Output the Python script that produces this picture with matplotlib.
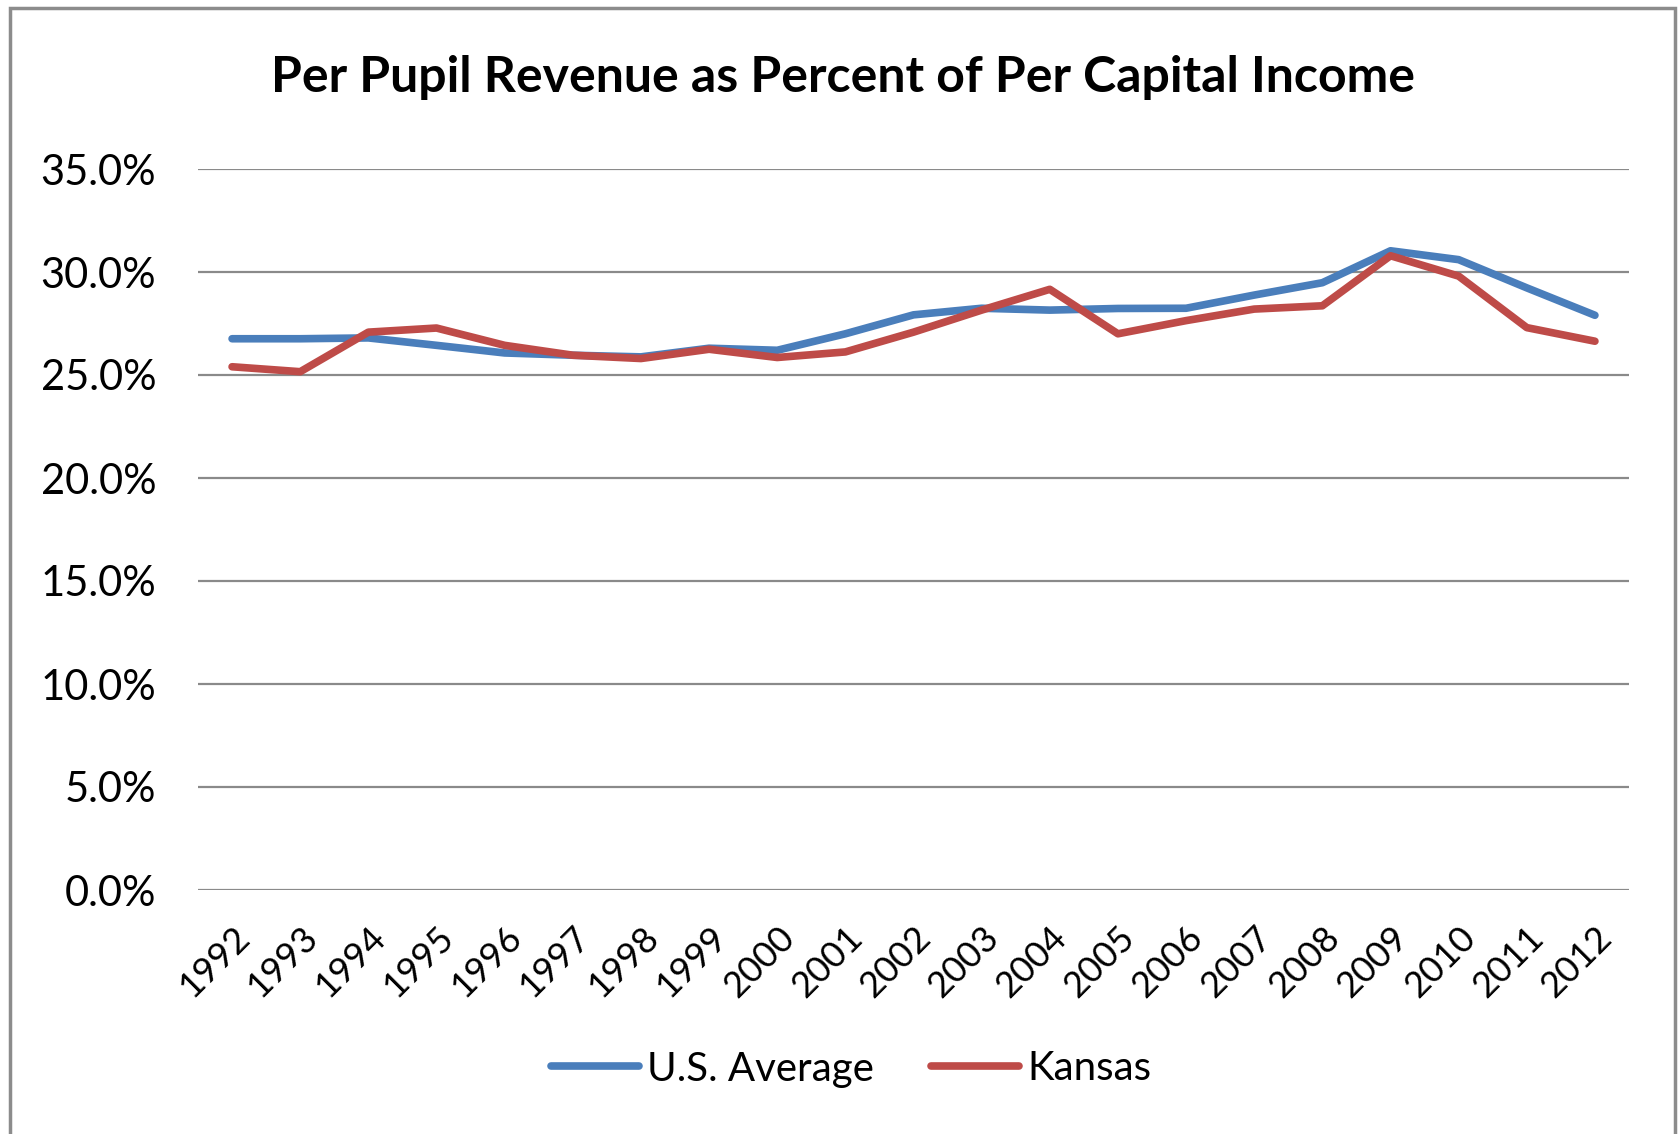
import matplotlib
matplotlib.use("Agg")
import matplotlib.pyplot as plt
from matplotlib.patches import Rectangle
from matplotlib.ticker import FuncFormatter

# data
years = [str(y) for y in range(1992, 2013)]
us_average = [26.76, 26.76, 26.8, 26.44, 26.07, 25.96, 25.88, 26.3, 26.2, 27.0,
              27.92, 28.24, 28.15, 28.23, 28.24, 28.88, 29.48, 31.03, 30.6, 29.23, 27.9]
kansas = [25.4, 25.16, 27.08, 27.28, 26.44, 25.96, 25.8, 26.25, 25.85, 26.12,
          27.08, 28.15, 29.16, 27.0, 27.64, 28.2, 28.36, 30.79, 29.8, 27.3, 26.64]
y_ticks = [0, 5, 10, 15, 20, 25, 30, 35]

plt.rcParams['font.family'] = ['Lato', 'DejaVu Sans']

W, H = 1681, 1134
fig = plt.figure(figsize=(W / 100, H / 100), dpi=100)

# outer chart frame
fig.patches.append(Rectangle((10 / W, -0.01), (1675 - 10) / W, (H - 8) / H + 0.01,
                             transform=fig.transFigure, fill=False,
                             edgecolor='#8c8c8c', linewidth=2.5))

ax = fig.add_axes([198 / W, (H - 890) / H, (1629 - 198) / W, (890 - 169) / H])

x = range(len(years))
ax.plot(x, us_average, color='#4A7EBB', linewidth=5.5, label='U.S. Average',
        solid_capstyle='round', solid_joinstyle='round')
ax.plot(x, kansas, color='#BE4B48', linewidth=5.5, label='Kansas',
        solid_capstyle='round', solid_joinstyle='round')

ax.set_xlim(-0.5, len(years) - 0.5)
ax.set_ylim(0, 35)
ax.set_yticks(y_ticks)
ax.yaxis.set_major_formatter(FuncFormatter(lambda v, p: f"{v:.1f}%"))
ax.set_xticks(list(x))
ax.set_xticklabels(years, rotation=45, ha='right', va='top', rotation_mode='anchor')

ax.grid(axis='y', color='#8a8a8a', linewidth=1.6)
ax.set_axisbelow(True)
for s in ax.spines.values():
    s.set_visible(False)
ax.tick_params(axis='both', length=0)
ax.tick_params(axis='y', pad=30, labelsize=30)
ax.tick_params(axis='x', pad=22, labelsize=26)

fig.text(843 / W, 1 - 77 / H, 'Per Pupil Revenue as Percent of Per Capital Income',
         ha='center', va='center', fontsize=36, fontweight='bold')

fig.legend(loc='center', bbox_to_anchor=(851 / W, 1 - 1069 / H), ncol=2,
           frameon=False, fontsize=29, handlelength=2.2, handletextpad=0.2,
           columnspacing=1.4)

fig.savefig('out.png', dpi=100)
